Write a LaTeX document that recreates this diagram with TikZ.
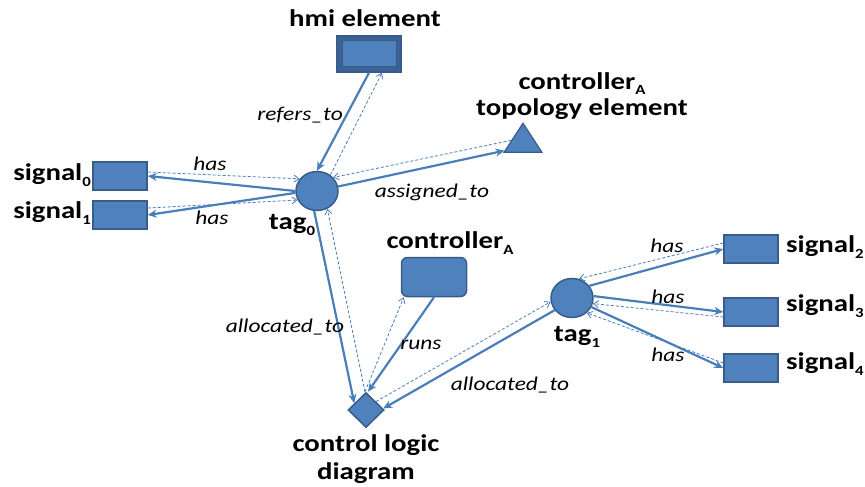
\documentclass[tikz,border=0pt]{standalone}
\usepackage{fontspec}
\setmainfont{Carlito}[FakeStretch=1.2]
\usetikzlibrary{shapes.geometric, arrows.meta, positioning}
\definecolor{boxblue}{RGB}{79,129,189}
\definecolor{rimblue}{RGB}{56,93,138}
\definecolor{linkblue}{RGB}{74,126,187}
\newcommand{\idx}[1]{\raisebox{-0.22em}{\fontsize{14}{14}\selectfont #1}}
\tikzset{
    objname/.style={font=\fontsize{24}{26}\selectfont\bfseries, align=center, inner sep=0pt},
    rellbl/.style={font=\fontsize{19.5}{20}\selectfont\itshape, inner sep=1pt},
    sigbox/.style={rectangle, draw=rimblue, line width=1.5pt, fill=boxblue,
                   minimum width=54pt, minimum height=28pt, inner sep=0pt},
    hmibox/.style={rectangle, draw=rimblue, line width=1.5pt, fill=rimblue!85!boxblue,
                   minimum width=64pt, minimum height=36pt, inner sep=0pt,
                   path picture={\draw[rimblue, line width=1pt, fill=boxblue]
                       ([shift={(5pt,-5pt)}]path picture bounding box.north west) rectangle
                       ([shift={(-5pt,5pt)}]path picture bounding box.south east);}},
    ctrlbox/.style={rectangle, rounded corners=6pt, draw=rimblue, line width=1.5pt,
                    fill=boxblue, minimum width=65pt, minimum height=39pt, inner sep=0pt},
    tagnode/.style={ellipse, draw=rimblue, line width=1.5pt, fill=boxblue,
                    minimum width=42pt, minimum height=39pt, inner sep=0pt},
    topotri/.style={isosceles triangle, shape border rotate=90, isosceles triangle apex angle=66,
                    draw=rimblue, line width=1.2pt, fill=boxblue, minimum height=29pt, inner sep=0pt},
    logicdia/.style={diamond, draw=rimblue, line width=1.5pt, fill=boxblue,
                     minimum width=36pt, minimum height=35pt, inner sep=0pt},
    mainlink/.style={-{Stealth[length=9pt,width=8pt]}, line width=2.2pt, draw=linkblue},
    backlink/.style={-{Straight Barb[length=5pt,width=7pt]}, line width=0.8pt, draw=linkblue,
                     dash pattern=on 3pt off 2pt},
}
\begin{document}
\begin{tikzpicture}[x=1pt, y=-1pt]
    \useasboundingbox (0,0) rectangle (865,487);
    % objects
    \node[hmibox] (hmi) at (369,54) {};
    \node[tagnode] (tag0) at (317,191) {};
    \node[sigbox] (sig0) at (120,176) {};
    \node[sigbox] (sig1) at (120,215) {};
    \node[topotri] (tri) at (523,142) {};
    \node[ctrlbox] (ctrl) at (434,277) {};
    \node[logicdia] (dia) at (366,410) {};
    \node[tagnode] (tag1) at (572,298) {};
    \node[sigbox] (sig2) at (751,249) {};
    \node[sigbox] (sig3) at (751,312) {};
    \node[sigbox] (sig4) at (751,368) {};
    % names
    \node[objname] (hminame) at (365,18) {hmi element};
    \node[objname] (triname) at (582,96) {controller\idx{A}\\topology element};
    \node[objname, anchor=east] (sig0name) at (91,175) {signal\idx{0}};
    \node[objname, anchor=east] (sig1name) at (91,213) {signal\idx{1}};
    \node[objname] (tag0name) at (292,225) {tag\idx{0}};
    \node[objname] (ctrlname) at (450,243) {controller\idx{A}};
    \node[objname, font=\fontsize{24}{28}\selectfont\bfseries] (dianame) at (366,459) {control logic\\diagram};
    \node[objname] (tag1name) at (577,337) {tag\idx{1}};
    \node[objname, anchor=west] (sig2name) at (786,247) {signal\idx{2}};
    \node[objname, anchor=west] (sig3name) at (786,306) {signal\idx{3}};
    \node[objname, anchor=west] (sig4name) at (786,364) {signal\idx{4}};
    % relations: solid one way, dashed back
    \draw[mainlink] (hmi.south) -- (tag0.north);
    \draw[backlink] (tag0.50) -- ([xshift=13pt]hmi.south);
    \draw[mainlink] (tag0.180) -- (sig0.east);
    \draw[backlink] ([yshift=4pt]sig0.east) -- (tag0.145);
    \draw[mainlink] (tag0.185) -- (sig1.east);
    \draw[backlink] ([yshift=7pt]sig1.east) -- (tag0.205);
    \draw[mainlink] (tag0.12) -- (tri.205);
    \draw[backlink] (tri.172) -- (tag0.40);
    \draw[mainlink] (tag0.262) -- (dia.150);
    \draw[backlink] ([xshift=-1pt]dia.north) -- (tag0.300);
    \draw[mainlink] (ctrl.south) -- ([xshift=2pt]dia.north);
    \draw[backlink] ([xshift=-1pt]dia.north) -- ([xshift=3pt]ctrl.south west);
    \draw[mainlink] (tag1.215) -- (dia.5);
    \draw[backlink] (dia.40) -- (tag1.190);
    \draw[mainlink] (tag1.35) -- (sig2.west);
    \draw[backlink] ([yshift=6pt]sig2.west) -- (tag1.70);
    \draw[mainlink] (tag1.5) -- (sig3.west);
    \draw[backlink] ([yshift=-5pt]sig3.west) -- (tag1.-15);
    \draw[mainlink] (tag1.-25) -- (sig4.west);
    \draw[backlink] ([yshift=5pt]sig4.west) -- (tag1.-45);
    % relation labels
    \node[rellbl] (refers) at (300,115) {refers\_to};
    \node[rellbl] (has0) at (210,164) {has};
    \node[rellbl] (has1) at (212,218) {has};
    \node[rellbl] (assigned) at (432,192) {assigned\_to};
    \node[rellbl] (alloc0) at (285,327) {allocated\_to};
    \node[rellbl] (runs) at (421,345) {runs};
    \node[rellbl] (alloc1) at (510,385) {allocated\_to};
    \node[rellbl] (has2) at (667,246) {has};
    \node[rellbl] (has3) at (668,297) {has};
    \node[rellbl] (has4) at (668,355) {has};
\end{tikzpicture}
\end{document}
